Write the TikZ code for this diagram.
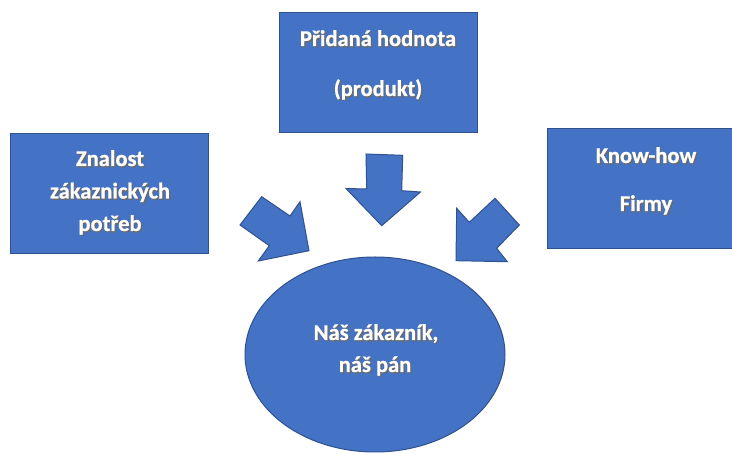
\documentclass[tikz,border=0pt]{standalone}
\usepackage{fontspec}
\setmainfont{Carlito}
\newfontfamily\lblfont{Carlito}[FakeBold=0.8]
\usetikzlibrary{shapes.geometric}
\definecolor{boxfill}{HTML}{4472C4}
\definecolor{boxline}{HTML}{2F528F}
\definecolor{shadowc}{HTML}{6A6A6A}
\newcommand\txtline[3]{%
  \node[lblsh] at ([shift={(1.3,1.3)}]#2) {#3};
  \node[lbl] (#1) at (#2) {#3};}
\begin{document}
\begin{tikzpicture}[x=1pt,y=-1pt,
  blk/.style={fill=boxfill,draw=boxline,line width=1pt},
  lbl/.style={anchor=base,inner sep=0pt,text=white,font=\lblfont\fontsize{22.5}{26}\selectfont\bfseries},
  lblsh/.style={lbl,text=shadowc}]
\fill[white] (0,0) rectangle (732,454);
\useasboundingbox (0,0) rectangle (732,454);
\clip (0,0) rectangle (732,454);
% boxes
\node[blk,minimum width=198,minimum height=120] (topbox) at (378,73) {};
\node[blk,minimum width=198,minimum height=120] (leftbox) at (109,194) {};
\node[blk,minimum width=198,minimum height=120] (rightbox) at (646,189) {};
\node[blk,ellipse,minimum width=260,minimum height=195] (cust) at (375,354.5) {};
% block arrows
\draw[blk,line join=miter] (240,225) -- (261.7,196.7) -- (290,216) -- (300,201.7) -- (309,250.7) -- (258.3,261) -- (269.3,245.7) -- cycle;
\draw[blk,line join=miter] (366,154) -- (402.7,155.3) -- (401.7,190.7) -- (420.5,192) -- (381.7,225.7) -- (346,188.5) -- (366.7,189) -- cycle;
\draw[blk,line join=miter] (495,198.3) -- (519.3,225) -- (496.7,248.3) -- (507.3,261.7) -- (456,260.7) -- (456.7,208.3) -- (469.3,222.3) -- cycle;
% texts
\txtline{t1}{378,46}{Přidaná hodnota}
\txtline{t2}{378,96}{(produkt)}
\txtline{l1}{110,166}{Znalost}
\txtline{l2}{110,198.5}{zákaznických}
\txtline{l3}{110,231}{potřeb}
\txtline{r1}{646,163}{Know-how}
\txtline{r2}{646,211}{Firmy}
\txtline{c1}{376,340}{Náš zákazník,}
\txtline{c2}{375,372}{náš pán}
\end{tikzpicture}
\end{document}
